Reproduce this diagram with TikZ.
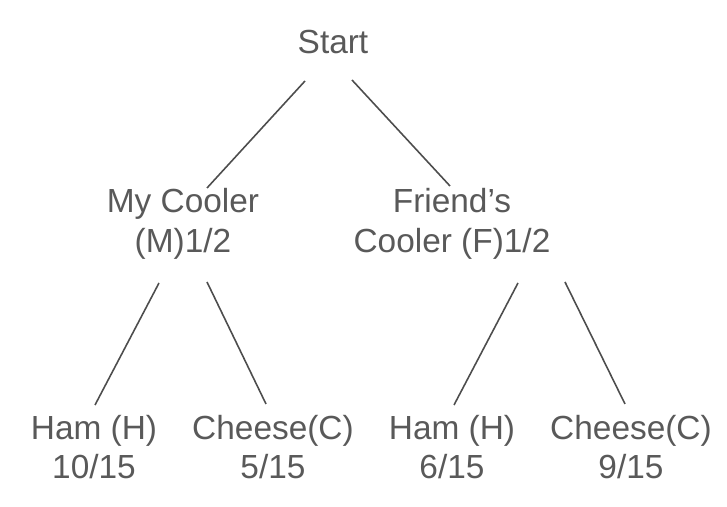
\documentclass[tikz,border=0pt]{standalone}
\usepackage{fontspec}
\setmainfont{Liberation Sans}
\usetikzlibrary{calc}
\definecolor{txtgray}{HTML}{595959}
\definecolor{edgegray}{HTML}{4D4D4D}
\begin{document}
\begin{tikzpicture}[x=0.01cm,y=-0.01cm]
\tikzstyle{every node}+=[inner sep=0pt]
\tikzstyle{lbl}=[align=center,text=txtgray,font=\fontsize{9.5}{11.3}\selectfont]
\tikzstyle{edge}=[edgegray,line width=0.45pt]
\useasboundingbox (0,0) rectangle (727,507);
\node [lbl] (start) at (333,42) {Start};
\node [lbl] (my) at (183,224) {My Cooler\\(M)1/2};
\node [lbl] (friend) at (452,224) {Friend’s\\Cooler (F)1/2};
\node [lbl] (hamm) at (94,447) {Ham (H)\\10/15};
\node [lbl] (cheesem) at (273,447) {Cheese(C)\\5/15};
\node [lbl] (hamf) at (452,447) {Ham (H)\\6/15};
\node [lbl] (cheesef) at (631,447) {Cheese(C)\\9/15};
\draw [edge] ($(start)+(-28,39)$) -- ($(my)+(24,-36)$);
\draw [edge] ($(start)+(19,38)$) -- ($(friend)+(-2,-38)$);
\draw [edge] ($(my)+(-24,59)$) -- ($(hamm)+(1,-42)$);
\draw [edge] ($(my)+(24,58)$) -- ($(cheesem)+(-7,-43)$);
\draw [edge] ($(friend)+(66,59)$) -- ($(hamf)+(2,-42)$);
\draw [edge] ($(friend)+(113,58)$) -- ($(cheesef)+(-6,-43)$);
\end{tikzpicture}
\end{document}
